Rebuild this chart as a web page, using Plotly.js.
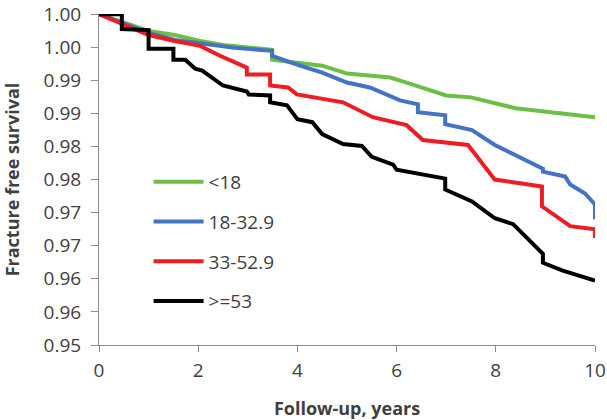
<!DOCTYPE html>
<html>
<head>
<meta charset="utf-8">
<script src="https://cdn.plot.ly/plotly-3.0.1.min.js"></script>
<style>html,body{margin:0;padding:0;background:#fff;}#chart{width:607px;height:420px;}</style>
</head>
<body>
<div id="chart"></div>
<script>
// Series names
var seriesNames = ["<18", "18-32.9", "33-52.9", ">=53"];

// <18
var x_lt18 = [0, 1.0, 1.53, 2.04, 2.5, 3.49, 3.49, 4.5, 5.0, 5.87, 6.2, 6.5, 7.0, 7.5, 8.4, 10];
var y_lt18 = [1.0, 0.99746, 0.99686, 0.99596, 0.99536, 0.99461, 0.99311, 0.99222, 0.99102, 0.99042, 0.98967, 0.98892, 0.98772, 0.98743, 0.98578, 0.98443];

// 18-32.9
var x_18_33 = [0, 1.0, 1.53, 2.04, 2.74, 3.49, 3.49, 4.05, 4.5, 5.0, 5.46, 6.07, 6.43, 6.43, 6.98, 6.98, 7.52, 7.98, 8.45, 8.95, 8.95, 9.4, 9.5, 9.8, 10, 10];
var y_18_33 = [1.0, 0.99716, 0.99611, 0.99566, 0.99491, 0.99446, 0.99371, 0.99222, 0.99117, 0.98967, 0.98892, 0.98698, 0.98638, 0.98518, 0.98473, 0.98338, 0.98249, 0.98024, 0.97844, 0.97665, 0.97620, 0.97545, 0.97425, 0.97290, 0.97126, 0.96901];

// 33-52.9
var x_33_53 = [0, 1.0, 1.53, 2.04, 2.44, 2.84, 2.98, 2.98, 3.45, 3.45, 3.81, 3.99, 4.92, 5.52, 5.93, 6.2, 6.53, 7.44, 7.98, 8.93, 8.93, 9.5, 10, 10];
var y_33_53 = [1.0, 0.99686, 0.99596, 0.99521, 0.99371, 0.99237, 0.99192, 0.99087, 0.99087, 0.98922, 0.98892, 0.98787, 0.98668, 0.98443, 0.98368, 0.98323, 0.98099, 0.98024, 0.97500, 0.97395, 0.97096, 0.96796, 0.96751, 0.96617];

// >=53
var x_ge53 = [0, 0.46, 0.46, 1.0, 1.0, 1.5, 1.5, 1.74, 1.94, 2.08, 2.5, 2.98, 3.02, 3.45, 3.45, 3.79, 4.0, 4.3, 4.5, 4.92, 5.3, 5.5, 5.93, 6.0, 6.98, 6.98, 7.52, 7.98, 8.35, 8.95, 8.95, 9.35, 10];
var y_ge53 = [1.0, 1.0, 0.99775, 0.99760, 0.99476, 0.99476, 0.99311, 0.99311, 0.99177, 0.99147, 0.98922, 0.98832, 0.98787, 0.98772, 0.98668, 0.98623, 0.98413, 0.98368, 0.98189, 0.98039, 0.98009, 0.97844, 0.97725, 0.97650, 0.97515, 0.97350, 0.97171, 0.96916, 0.96826, 0.96377, 0.96243, 0.96123, 0.95973];

// Axis ticks
var yTickVals = [0.95, 0.955, 0.96, 0.965, 0.97, 0.975, 0.98, 0.985, 0.99, 0.995, 1.0];
var yTickText = ["0.95", "0.96", "0.96", "0.97", "0.97", "0.98", "0.98", "0.99", "0.99", "1.00", "1.00"];
var xTickVals = [0, 2, 4, 6, 8, 10];

var colors = ["#6cbf45", "#4472c4", "#f01c24", "#000000"];
var xs = [x_lt18, x_18_33, x_33_53, x_ge53];
var ys = [y_lt18, y_18_33, y_33_53, y_ge53];

var traces = seriesNames.map(function (name, i) {
  return {
    x: xs[i], y: ys[i], name: name, type: "scatter", mode: "lines",
    legendgroup: "g" + i,
    line: {color: colors[i], width: 4, shape: "linear"},
    hoverinfo: "skip"
  };
});

var font = "'Open Sans', 'Noto Sans', sans-serif";
var layout = {
  width: 607, height: 420,
  margin: {l: 99, r: 12, t: 14, b: 75},
  paper_bgcolor: "#ffffff", plot_bgcolor: "#ffffff",
  font: {family: font, size: 19, color: "#404040"},
  showlegend: true,
  legend: {
    x: 0.10, y: 0.55, xanchor: "left", yanchor: "top",
    bgcolor: "rgba(0,0,0,0)", borderwidth: 0,
    font: {family: font, size: 19, color: "#404040"},
    tracegroupgap: 12, itemwidth: 50
  },
  xaxis: {
    range: [0, 10], tickvals: xTickVals, ticktext: xTickVals.map(String),
    showgrid: false, zeroline: false, showline: true, linecolor: "#8c8c8c", linewidth: 1,
    ticks: "outside", ticklen: 6, tickcolor: "#8c8c8c", tickwidth: 1,
    ticklabelstandoff: 2,
    tickfont: {family: font, size: 19, color: "#404040"},
    title: {text: "Follow-up, years", font: {family: font, size: 18, color: "#404040", weight: "bold"}, standoff: 27}
  },
  yaxis: {
    range: [0.95, 1.00003], tickvals: yTickVals, ticktext: yTickText,
    showgrid: false, zeroline: false, showline: true, linecolor: "#8c8c8c", linewidth: 1,
    ticks: "outside", ticklen: 7, tickcolor: "#8c8c8c", tickwidth: 1,
    ticklabelstandoff: 6, ticklabeloverflow: "allow",
    tickfont: {family: font, size: 19, color: "#404040"},
    title: {text: "Fracture free survival", font: {family: font, size: 18, color: "#404040", weight: "bold"}, standoff: 23}
  }
};

Plotly.newPlot("chart", traces, layout, {displayModeBar: false, staticPlot: true});
</script>
</body>
</html>
